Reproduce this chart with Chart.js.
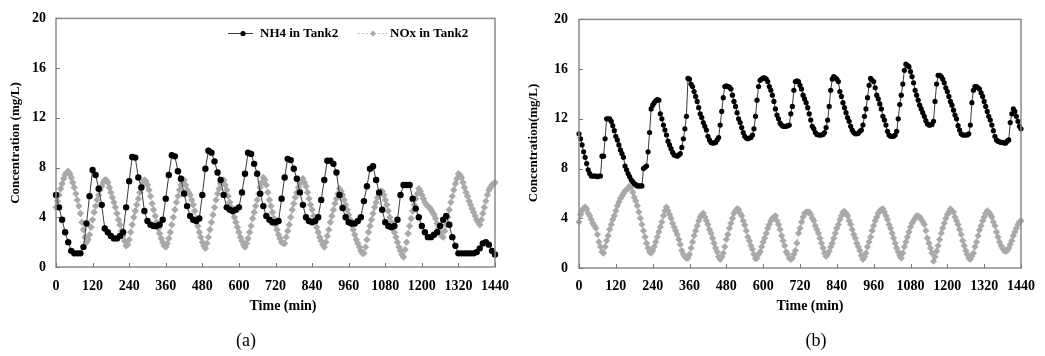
<!DOCTYPE html>
<html><head><meta charset="utf-8">
<script src="https://cdn.jsdelivr.net/npm/chart.js@4.4.1/dist/chart.umd.min.js"></script>
<style>
html,body{margin:0;padding:0;background:#fff;}
#wrap{position:relative;width:1045px;height:356px;overflow:hidden;background:#fff;}
#ca{position:absolute;left:0;top:0;}
#cb{position:absolute;left:520px;top:0;}
</style></head><body>
<div id="wrap"><canvas id="ca" width="520" height="356"></canvas><canvas id="cb" width="525" height="356"></canvas></div>
<script>
// ---------- data ----------
const xTicks = [0,120,240,360,480,600,720,840,960,1080,1200,1320,1440];
const yTicks = [0,4,8,12,16,20];
const seriesNames = ['NH4 in Tank2','NOx in Tank2'];

// Panel (a): NH4 every 10 min, NOx every 5 min (0..1440)
const stepNh4A = 10;
const nh4A = [
 5.8,4.8,3.8,2.8,2.0,1.3,
 1.1,1.1,1.1,1.6,3.5,5.7,
 7.8,7.4,6.3,5.0,3.1,2.8,
 2.5,2.3,2.3,2.5,2.8,4.8,
 6.9,8.85,8.8,7.2,6.4,4.5,
 3.7,3.4,3.3,3.3,3.4,3.8,
 5.5,7.4,9.0,8.9,7.7,7.1,
 5.9,4.9,4.1,3.8,3.7,3.9,
 5.8,7.9,9.35,9.2,8.5,7.6,
 7.0,5.8,4.8,4.6,4.5,4.6,
 4.8,6.0,7.5,9.2,9.1,8.3,
 7.5,5.9,4.9,4.1,3.8,3.6,
 3.6,3.7,5.5,7.2,8.7,8.6,
 7.9,7.1,6.0,5.0,4.0,3.7,
 3.6,3.7,4.0,5.4,7.0,8.55,
 8.55,8.3,7.6,5.8,4.75,4.0,
 3.6,3.5,3.5,3.7,4.0,5.3,
 6.5,7.9,8.1,7.0,6.0,4.6,
 3.6,3.3,3.2,3.3,3.8,5.8,
 6.6,6.6,6.6,5.5,4.7,4.0,
 3.3,2.8,2.4,2.4,2.6,2.8,
 3.3,3.8,4.1,3.4,2.4,1.7,
 1.1,1.1,1.1,1.1,1.1,1.1,
 1.2,1.5,1.9,2.0,1.8,1.3,
 1.0];
const stepNoxA = 5;
const noxA = [
 4.8,5.3,5.8,6.3,6.7,7.1,7.4,7.6,7.7,7.5,7.2,6.8,
 6.4,5.9,5.4,4.9,4.3,3.6,3.0,2.4,2.0,2.2,2.6,3.2,
 3.8,4.4,4.9,5.4,5.8,6.2,6.5,6.8,7.0,7.0,6.8,6.4,
 6.0,5.6,5.2,4.8,4.3,3.8,3.4,2.9,2.5,2.1,1.7,1.8,
 2.2,2.8,3.4,4.0,4.5,5.0,5.5,6.0,6.4,6.8,7.0,6.9,
 6.6,6.2,5.7,5.1,4.6,4.1,3.6,3.1,2.7,2.3,2.0,1.7,
 1.6,1.9,2.3,2.8,3.4,4.0,4.6,5.2,5.7,6.2,6.6,6.9,
 7.0,6.6,6.2,6.0,5.8,5.4,5.0,4.5,3.9,3.3,2.8,2.4,
 2.0,1.7,1.5,1.9,2.4,3.0,3.6,4.2,4.8,5.4,5.9,6.3,
 6.7,6.9,7.0,6.6,6.2,5.7,5.2,4.8,4.4,4.0,3.6,3.2,
 2.8,2.4,2.1,1.8,1.6,1.9,2.3,2.8,3.3,3.9,4.4,4.9,
 5.4,5.9,6.4,6.8,7.2,7.0,6.6,6.0,5.4,4.9,4.4,3.9,
 3.4,3.0,2.6,2.3,2.0,1.9,1.9,2.4,2.9,3.4,4.0,4.6,
 5.1,5.6,6.0,6.4,6.7,6.9,7.1,6.8,6.5,6.0,5.5,5.0,
 4.6,4.1,3.7,3.2,2.8,2.4,2.1,1.8,1.6,2.0,2.5,3.0,
 3.6,4.1,4.6,5.1,5.5,5.9,6.3,6.1,5.8,5.4,5.0,4.6,
 4.2,3.8,3.4,3.0,2.6,2.2,1.9,1.6,1.3,1.1,1.1,1.6,
 2.2,2.8,3.3,3.8,4.3,4.8,5.2,5.6,5.9,6.1,6.1,5.8,
 5.4,5.0,4.5,4.0,3.6,3.2,2.8,2.4,2.0,1.6,1.3,1.0,
 0.8,1.4,2.0,2.7,3.3,3.9,4.5,5.0,5.5,5.9,6.3,6.1,
 5.8,5.5,5.2,5.0,4.9,4.8,4.6,4.4,4.2,3.9,3.5,3.1,
 2.8,2.5,2.4,2.9,3.4,4.0,4.6,5.2,5.7,6.2,6.7,7.1,
 7.5,7.4,7.2,6.8,6.4,6.0,5.7,5.3,5.0,4.7,4.4,4.1,
 3.8,3.6,3.4,3.8,4.3,4.8,5.3,5.8,6.2,6.4,6.6,6.7,
 6.8];

// Panel (b): both series every 5 min (0..1440)
const stepB = 5;
const nh4B = [
 10.8,10.4,9.9,9.35,8.9,8.4,7.9,7.6,7.4,7.4,7.4,7.4,
 7.35,7.4,7.4,9.0,9.0,10.4,12.0,12.0,12.0,11.8,11.45,11.05,
 10.6,10.3,9.9,9.5,9.2,8.9,8.2,7.9,7.6,7.35,7.1,6.95,
 6.8,6.7,6.6,6.6,6.6,6.6,8.0,8.1,8.2,9.35,10.9,12.8,
 13.1,13.3,13.45,13.55,13.5,12.4,12.0,11.5,11.1,10.7,10.2,9.9,
 9.6,9.3,9.1,9.05,9.0,9.1,9.2,9.7,10.4,11.2,12.2,15.25,
 15.2,14.8,14.6,14.2,13.8,13.4,12.9,12.4,12.1,11.7,11.4,11.1,
 10.6,10.3,10.1,10.05,10.05,10.1,10.3,10.5,11.5,12.6,13.7,14.6,
 14.65,14.6,14.55,14.4,13.9,13.4,13.0,12.5,12.0,11.7,11.3,10.9,
 10.6,10.45,10.4,10.45,10.5,10.7,11.2,12.2,13.5,14.6,15.1,15.2,
 15.3,15.3,15.2,15.0,14.6,14.3,13.9,13.4,12.8,12.3,12.0,11.65,
 11.5,11.4,11.4,11.4,11.45,11.5,12.4,13.0,14.3,15.0,15.05,15.0,
 14.7,14.4,13.9,13.6,13.3,12.9,12.4,11.9,11.4,11.2,10.9,10.75,
 10.7,10.7,10.7,10.75,10.9,11.3,11.9,13.0,14.3,15.2,15.4,15.3,
 15.2,15.0,14.2,13.8,13.3,12.9,12.5,12.1,11.8,11.4,11.1,10.9,
 10.8,10.8,10.85,11.0,11.1,11.5,12.2,12.8,13.7,14.7,15.25,15.1,
 15.0,14.5,13.9,13.6,13.2,12.8,12.2,11.9,11.5,11.0,10.7,10.6,
 10.6,10.6,10.7,11.0,12.0,13.15,13.9,14.8,15.9,16.4,16.3,16.2,
 15.8,15.4,14.9,14.3,13.9,13.5,13.1,12.8,12.5,12.2,11.85,11.6,
 11.5,11.5,11.55,11.8,13.4,14.8,15.5,15.5,15.4,15.2,14.9,14.5,
 14.2,13.8,13.4,13.1,12.7,12.3,12.0,11.45,11.1,10.8,10.7,10.7,
 10.7,10.7,10.8,11.5,13.3,14.3,14.6,14.6,14.5,14.4,14.1,13.8,
 13.4,13.0,12.6,12.2,11.9,11.5,11.05,10.6,10.3,10.2,10.15,10.1,
 10.1,10.05,10.05,10.2,10.3,11.7,12.4,12.8,12.6,12.2,11.8,11.4,
 11.2];
const noxB = [
 3.7,4.3,4.6,4.8,4.9,4.75,4.4,4.2,3.9,3.6,3.4,3.2,
 2.7,2.1,1.7,1.3,1.2,1.7,2.2,2.6,3.1,3.5,3.9,4.2,
 4.6,5.0,5.3,5.6,5.8,6.0,6.2,6.3,6.4,6.6,6.5,6.1,
 5.7,5.4,5.0,4.5,4.0,3.5,3.0,2.5,2.0,1.6,1.3,1.2,
 1.4,1.7,2.1,2.5,2.9,3.3,3.7,4.2,4.6,4.9,4.6,4.3,
 4.0,3.6,3.3,3.0,2.7,2.3,1.9,1.4,1.1,0.9,0.8,0.8,
 1.1,1.6,2.1,2.6,3.0,3.4,3.8,4.1,4.3,4.4,4.1,3.8,
 3.5,3.1,2.8,2.4,2.0,1.6,1.3,0.9,0.7,0.9,1.2,1.7,
 2.3,2.7,3.2,3.6,4.0,4.4,4.6,4.75,4.7,4.4,4.2,3.8,
 3.45,3.0,2.5,2.2,1.8,1.5,1.1,0.75,0.8,1.1,1.3,1.7,
 2.1,2.4,2.8,3.2,3.5,3.8,4.0,4.1,4.2,3.8,3.5,3.1,
 2.6,2.2,1.8,1.3,1.1,0.8,0.7,0.8,1.1,1.4,2.0,2.8,
 3.2,3.7,4.1,4.4,4.5,4.5,4.5,4.3,4.0,3.8,3.4,3.1,
 2.8,2.4,2.0,1.6,1.2,0.95,1.1,1.35,1.7,2.0,2.4,2.8,
 3.2,3.5,3.9,4.2,4.5,4.55,4.4,4.2,3.8,3.5,3.1,2.7,
 2.4,2.0,1.7,1.4,1.0,0.7,0.9,1.2,1.7,2.1,2.5,3.0,
 3.4,3.8,4.1,4.4,4.6,4.7,4.75,4.5,4.2,3.9,3.5,3.2,
 2.8,2.4,2.0,1.6,1.3,1.0,0.8,1.2,1.7,2.1,2.5,2.9,
 3.3,3.6,3.8,4.0,4.2,4.2,4.1,3.9,3.7,3.5,3.0,2.4,
 2.0,1.6,1.2,0.55,0.9,1.35,1.8,2.3,2.8,3.2,3.6,4.0,
 4.3,4.5,4.75,4.6,4.5,4.1,3.8,3.5,3.1,2.7,2.2,1.8,
 1.4,1.1,0.8,0.7,0.95,1.2,1.7,2.1,2.6,3.05,3.4,3.8,
 4.1,4.4,4.6,4.5,4.3,4.1,3.7,3.4,2.9,2.5,2.1,1.8,
 1.6,1.4,1.35,1.4,1.6,1.9,2.2,2.6,2.9,3.2,3.5,3.7,
 3.8];

// ---------- drawing ----------
const SERIF = '"Liberation Serif","Times New Roman",serif';
const toPts = (arr, step) => arr.map((v, i) => ({x: i * step, y: v}));

const decor = {
  id: 'decor',
  afterDraw(chart, args, o) {
    const {ctx, chartArea: a, scales: {x, y}} = chart;
    ctx.save();
    ctx.strokeStyle = '#8a8a8a'; ctx.lineWidth = 1.5;
    ctx.strokeRect(a.left, a.top, a.right - a.left, a.bottom - a.top);
    ctx.strokeStyle = '#777'; ctx.lineWidth = 1;
    xTicks.forEach(t => { const px = Math.round(x.getPixelForValue(t)) + 0.5;
      ctx.beginPath(); ctx.moveTo(px, a.bottom); ctx.lineTo(px, a.bottom - 4); ctx.stroke(); });
    yTicks.forEach(t => { const py = Math.round(y.getPixelForValue(t)) + 0.5;
      ctx.beginPath(); ctx.moveTo(a.left, py); ctx.lineTo(a.left + 4, py); ctx.stroke(); });
    ctx.fillStyle = '#000'; ctx.textAlign = 'center'; ctx.textBaseline = 'middle';
    ctx.font = 'bold 14px ' + SERIF;
    ctx.fillText(o.xTitle, o.xTitleX, o.xTitleY);
    ctx.save(); ctx.translate(o.yTitleX, o.yTitleY); ctx.rotate(-Math.PI / 2);
    ctx.font = 'bold 13px ' + SERIF; ctx.fillText(o.yTitle, 0, 0); ctx.restore();
    ctx.font = '18px ' + SERIF; ctx.fillText(o.label, o.labelX, o.labelY);
    if (o.legend) {
      o.legend.forEach(it => {
        const ds = chart.data.datasets[it.ds];
        ctx.save();
        ctx.strokeStyle = ds.borderColor; ctx.lineWidth = 1;
        ctx.setLineDash(ds.borderDash || []);
        ctx.beginPath(); ctx.moveTo(it.x1, it.y + 0.5); ctx.lineTo(it.x2, it.y + 0.5); ctx.stroke();
        ctx.setLineDash([]);
        ctx.fillStyle = ds.pointBackgroundColor; ctx.strokeStyle = ds.pointBorderColor;
        Chart.helpers.drawPoint(ctx, {pointStyle: ds.pointStyle, radius: it.r, rotation: 0, borderWidth: 0}, it.mx, it.y + 0.5);
        ctx.restore();
        ctx.fillStyle = '#000'; ctx.textAlign = 'left'; ctx.font = 'bold 13px ' + SERIF;
        ctx.fillText(seriesNames[it.ds], it.tx, it.y + 1);
      });
    }
    ctx.restore();
  }
};

function makeChart(id, nh4, stepNh4, nox, stepNox, p) {
  const tickFont = {family: SERIF, weight: 'bold', size: 14};
  return new Chart(document.getElementById(id), {
    type: 'line',
    data: {
      datasets: [
        {label: seriesNames[0], data: toPts(nh4, stepNh4), borderColor: '#3a3a3a', borderWidth: 1,
         pointStyle: 'circle', pointRadius: p.r1, pointBackgroundColor: '#000', pointBorderColor: '#000',
         pointBorderWidth: 0, tension: 0, clip: false},
        {label: seriesNames[1], data: toPts(nox, stepNox), borderColor: '#bdbdbd', borderWidth: 1, borderDash: [2, 2],
         pointStyle: 'rectRot', pointRadius: p.r2, pointBackgroundColor: '#a9a9a9', pointBorderColor: '#a9a9a9',
         pointBorderWidth: 0, tension: 0, clip: false}
      ]
    },
    options: {
      responsive: false, animation: false, devicePixelRatio: 1,
      layout: {padding: {left: 0, right: p.padR, top: p.top, bottom: 0}},
      plugins: {legend: {display: false}, tooltip: {enabled: false}, decor: p.decor},
      scales: {
        x: {type: 'linear', min: 0, max: 1440,
            afterBuildTicks: s => { s.ticks = xTicks.map(v => ({value: v})); },
            ticks: {font: tickFont, color: '#000', maxRotation: 0, autoSkip: false, padding: p.xPad,
                    callback: v => String(v)},
            grid: {display: false, drawTicks: false}, border: {display: false},
            afterFit: s => { s.height = p.xH; }},
        y: {min: 0, max: 20,
            afterBuildTicks: s => { s.ticks = yTicks.map(v => ({value: v})); },
            ticks: {font: tickFont, color: '#000', padding: p.yPad, callback: v => String(v)},
            grid: {display: false, drawTicks: false}, border: {display: false},
            afterFit: s => { s.width = p.yW; }}
      }
    },
    plugins: [decor]
  });
}

makeChart('ca', nh4A, stepNh4A, noxA, stepNoxA, {
  r1: 3.2, r2: 3.7, padR: 15, top: 13, xH: 89, yW: 56, xPad: 11, yPad: 10,
  decor: {xTitle: 'Time (min)', xTitleX: 283, xTitleY: 306,
          yTitle: 'Concentration (mg/L)', yTitleX: 16, yTitleY: 143,
          label: '(a)', labelX: 246, labelY: 341,
          legend: [{ds: 0, x1: 228, x2: 253, mx: 243, r: 2.6, tx: 260, y: 33},
                   {ds: 1, x1: 358, x2: 387, mx: 373, r: 3, tx: 390, y: 33}]}
});
makeChart('cb', nh4B, stepB, noxB, stepB, {
  r1: 2.6, r2: 3.6, padR: 21.5, top: 12, xH: 88, yW: 59, xPad: 10, yPad: 11,
  decor: {xTitle: 'Time (min)', xTitleX: 290, xTitleY: 306,
          yTitle: 'Concentration(mg/L)', yTitleX: 13.5, yTitleY: 143,
          label: '(b)', labelX: 296, labelY: 341}
});
</script>
</body></html>
